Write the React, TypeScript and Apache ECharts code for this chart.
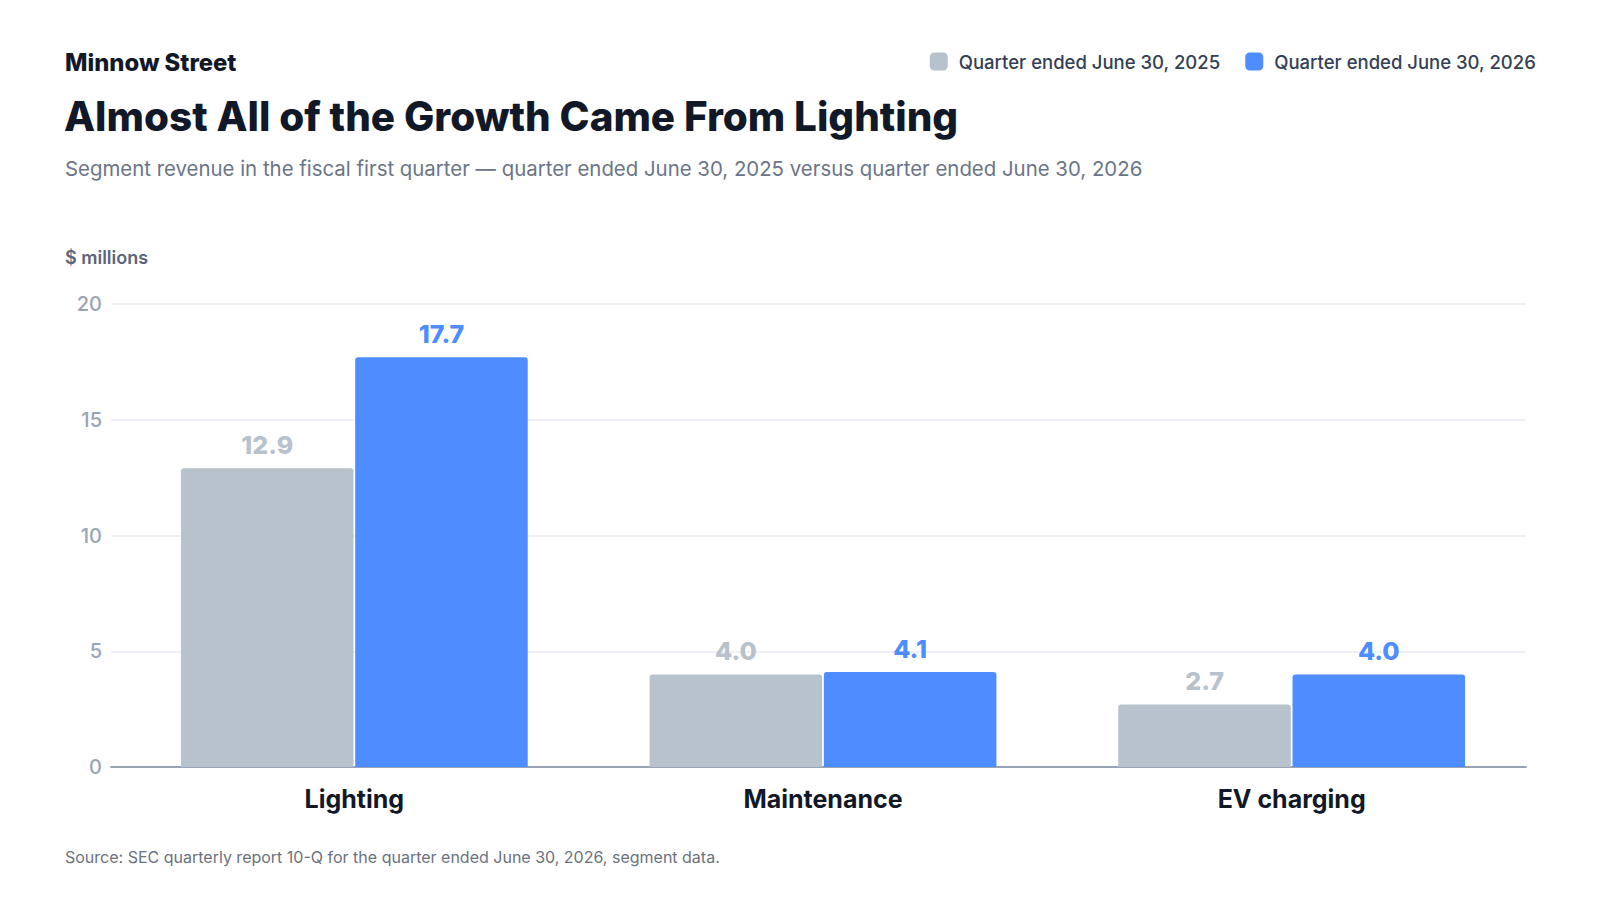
import React, { useEffect, useRef } from "react";
import * as echarts from "echarts";

const categories = ["Lighting", "Maintenance", "EV charging"];
const series2025 = [12.9, 4.0, 2.7];
const series2026 = [17.7, 4.1, 4.0];
const seriesNames = ["Quarter ended June 30, 2025", "Quarter ended June 30, 2026"];
const yTicks = { min: 0, max: 20, interval: 5 };

const FONT = "Inter, 'Noto Sans', sans-serif";
const GRAY = "#b8c2cc";
const BLUE = "#4d8dff";

export default function App() {
  const ref = useRef<HTMLDivElement>(null);
  useEffect(() => {
    if (!ref.current) return;
    const chart = echarts.init(ref.current, undefined, { renderer: "svg" });
    const barLabel = (color: string) => ({
      show: true,
      position: "top",
      distance: 11,
      formatter: (p: any) => Number(p.value).toFixed(1),
      fontFamily: FONT,
      fontSize: 25,
      fontWeight: 800,
      color,
    });
    chart.setOption({
      animation: false,
      backgroundColor: "#ffffff",
      textStyle: { fontFamily: FONT },
      legend: {
        right: 59,
        top: 47,
        itemWidth: 18,
        itemHeight: 18,
        itemGap: 25,
        icon: "roundRect",
        data: seriesNames,
        textStyle: {
          fontFamily: FONT,
          fontSize: 18.5,
          fontWeight: 500,
          color: "#334155",
          padding: [0, 0, 0, 6],
        },
      },
      grid: [
        { left: 111, right: 74, top: 304, bottom: 133 },
        { left: 120, right: 74, top: 304, bottom: 133 },
      ],
      xAxis: [
        {
          gridIndex: 0,
          type: "value",
          min: 0,
          max: 1,
          axisTick: { show: false },
          axisLabel: { show: false },
          splitLine: { show: false },
          axisLine: { show: true, lineStyle: { color: "#9aa3b5", width: 2 } },
        },
        {
          gridIndex: 1,
          type: "category",
          data: categories,
          axisTick: { show: false },
          axisLine: { show: false },
          axisLabel: {
            fontFamily: FONT,
            fontSize: 25,
            fontWeight: 700,
            color: "#111827",
            margin: 19,
          },
        },
      ],
      yAxis: [
        {
          gridIndex: 0,
          type: "value",
          min: yTicks.min,
          max: yTicks.max,
          interval: yTicks.interval,
          axisLine: { show: false },
          axisTick: { show: false },
          splitLine: { lineStyle: { color: "#edf0f4", width: 2 } },
          axisLabel: {
            fontFamily: FONT,
            fontSize: 20,
            fontWeight: 500,
            color: "#9aa3b5",
            margin: 9,
          },
        },
        {
          gridIndex: 1,
          type: "value",
          min: yTicks.min,
          max: yTicks.max,
          interval: yTicks.interval,
          show: false,
          splitLine: { show: false },
        },
      ],
      series: [
        {
          name: seriesNames[0],
          type: "bar",
          xAxisIndex: 1,
          yAxisIndex: 1,
          data: series2025,
          barCategoryGap: "26%",
          barGap: "1%",
          itemStyle: { color: GRAY, borderRadius: [3, 3, 0, 0] },
          label: barLabel(GRAY),
        },
        {
          name: seriesNames[1],
          type: "bar",
          xAxisIndex: 1,
          yAxisIndex: 1,
          data: series2026,
          barCategoryGap: "26%",
          barGap: "1%",
          itemStyle: { color: BLUE, borderRadius: [3, 3, 0, 0] },
          label: barLabel(BLUE),
        },
      ],
      graphic: [
        {
          type: "text",
          left: 65,
          top: 50,
          style: {
            text: "Minnow Street",
            fontFamily: FONT,
            fontSize: 23.8,
            fontWeight: 800,
            fill: "#111827",
          },
        },
        {
          type: "text",
          left: 64,
          top: 96,
          style: {
            text: "Almost All of the Growth Came From Lighting",
            fontFamily: FONT,
            fontSize: 40.4,
            fontWeight: 800,
            fill: "#111827",
          },
        },
        {
          type: "text",
          left: 65,
          top: 158,
          style: {
            text: "Segment revenue in the fiscal first quarter — quarter ended June 30, 2025 versus quarter ended June 30, 2026",
            fontFamily: FONT,
            fontSize: 20.4,
            fontWeight: 400,
            fill: "#6b7588",
          },
        },
        {
          type: "text",
          left: 65,
          top: 248,
          style: {
            text: "$ millions",
            fontFamily: FONT,
            fontSize: 18,
            fontWeight: 600,
            fill: "#5b6478",
          },
        },
        {
          type: "text",
          left: 65,
          top: 849,
          style: {
            text: "Source: SEC quarterly report 10-Q for the quarter ended June 30, 2026, segment data.",
            fontFamily: FONT,
            fontSize: 16,
            fontWeight: 400,
            fill: "#6b7280",
          },
        },
      ],
    });
    return () => chart.dispose();
  }, []);
  return (
    <div
      ref={ref}
      style={{ position: "fixed", left: 0, top: 0, width: 1600, height: 900, background: "#fff" }}
    />
  );
}
